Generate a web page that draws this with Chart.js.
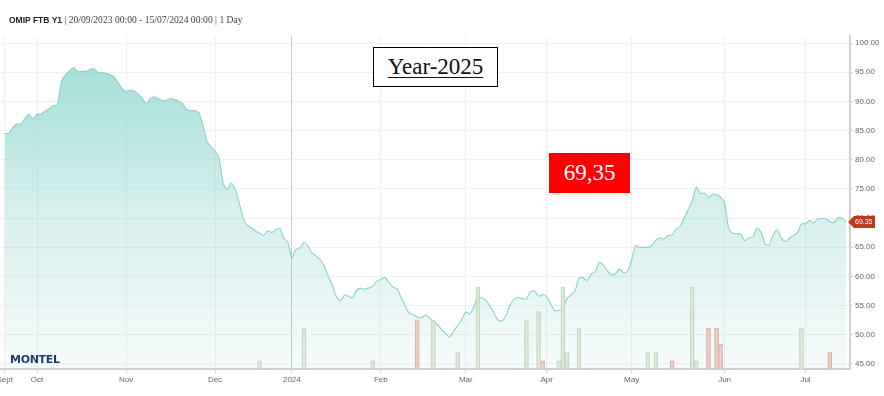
<!DOCTYPE html>
<html>
<head>
<meta charset="utf-8">
<script src="https://cdn.jsdelivr.net/npm/chart.js@4/dist/chart.umd.min.js"></script>
<style>
  html, body { margin: 0; padding: 0; background: #fff; }
  #wrap { position: relative; width: 884px; height: 396px; overflow: hidden; }
  #c { position: absolute; left: 0; top: 0; }
  #hdr { position: absolute; left: 9px; top: 14px; font-size: 9.6px; color: #444; font-family: "Liberation Serif", serif; white-space: nowrap; }
  #hdr b { font-family: "Liberation Sans", Arial, sans-serif; color: #222; font-size: 8.5px; }
  #yearBox { position: absolute; left: 373px; top: 47px; width: 123px; height: 38px; border: 1.5px solid #000; background: #fff;
    font-family: "Liberation Serif", serif; font-size: 23px; text-align: center; line-height: 38px; color: #111; }
  #yearBox span { text-decoration: underline; text-underline-offset: 3px; text-decoration-thickness: 1px; }
  #valBox { position: absolute; left: 549px; top: 153px; width: 81px; height: 40px; background: #ff0000; color: #fff;
    font-family: "Liberation Serif", serif; font-size: 23px; text-align: center; line-height: 40px; }
  #logo { position: absolute; left: 10px; top: 353px; font-family: "DejaVu Sans", sans-serif; font-weight: bold; font-size: 11px;
    letter-spacing: -0.3px; color: #1d3c70; }
</style>
</head>
<body>
<div id="wrap">
  <canvas id="c" width="884" height="396"></canvas>
  <div id="hdr"><b>OMIP FTB Y1</b> | 20/09/2023 00:00 - 15/07/2024 00:00 | 1 Day</div>
  <div id="yearBox"><span>Year-2025</span></div>
  <div id="valBox"></div>
  <div id="logo">MONTEL</div>
</div>
<script>
// ---- DATA ----
const startDate = '2023-09-20';
const endDate = '2024-07-15';
const holidays = ['2023-12-25', '2023-12-26', '2024-01-01', '2024-03-29', '2024-04-01'];

// daily settlement price, one per trading day
const prices = [
  84.5, 84.5, 85.5, 86.1, 86.1, 87.1, 87.8, 87.0, 87.8, 87.8,
  88.3, 88.7, 89.3, 89.4, 93.3, 94.5, 95.2, 95.8, 95.1, 95.1,
  95.1, 95.4, 95.6, 95.0, 94.9, 94.8, 94.6, 94.2, 93.2, 92.2,
  91.7, 91.9, 91.8, 91.2, 90.6, 89.5, 90.5, 90.8, 90.4, 90.1,
  90.2, 90.5, 90.3, 90.0, 89.6, 88.6, 88.4, 88.4, 88.1, 86.0,
  83.2, 82.2, 81.5, 80.3, 76.0, 74.9, 76.0, 75.0, 72.6, 70.0,
  68.7, 68.3, 67.8, 67.4, 67.0, 67.8, 67.5, 68.0, 68.3, 66.5,
  65.9, 63.2, 64.6, 64.9, 65.8, 65.2, 64.0, 63.5, 62.9, 61.8,
  60.0, 58.5, 56.5, 55.8, 56.8, 56.6, 56.3, 57.6, 58.0, 57.8,
  58.0, 58.3, 59.2, 59.5, 59.8, 59.0, 58.2, 57.9, 56.4, 55.0,
  53.7, 53.5, 53.0, 52.9, 53.4, 52.9, 52.3, 51.8, 50.9, 50.3,
  49.6, 50.6, 51.6, 52.6, 53.9, 53.6, 54.8, 56.4, 56.3, 55.9,
  54.9, 53.7, 52.5, 52.4, 53.4, 55.2, 56.1, 56.4, 56.2, 56.1,
  57.4, 57.5, 56.6, 56.9, 56.5, 55.3, 54.1, 54.2, 54.6, 56.2,
  56.8, 57.5, 59.7, 59.8, 59.3, 60.4, 60.8, 62.4, 62.0, 61.0,
  60.3, 60.4, 61.3, 60.6, 60.9, 62.8, 65.3, 65.0, 65.0, 65.0,
  65.3, 66.2, 66.6, 66.4, 67.0, 67.1, 68.1, 68.6, 70.0, 71.5,
  73.0, 75.3, 74.2, 74.3, 73.6, 74.1, 74.0, 73.6, 72.6, 68.2,
  67.4, 67.3, 67.2, 66.1, 66.6, 66.8, 68.3, 67.6, 65.6, 65.3,
  67.2, 68.0, 66.6, 66.0, 66.5, 67.0, 67.5, 69.0, 69.0, 69.6,
  69.2, 69.9, 69.9, 69.9, 69.4, 69.2, 70.0, 70.0, 69.35
];

// traded volume bars (green / red)
const greenVolDates = ['2023-12-18','2024-01-05','2024-01-30','2024-02-20','2024-02-28','2024-03-06','2024-03-22','2024-03-27',
  '2024-04-05','2024-04-08','2024-04-09','2024-04-12','2024-05-07','2024-05-09','2024-05-22','2024-05-23','2024-06-28'];
const greenVols = [1, 5, 1, 6, 2, 10, 6, 7, 1, 10, 2, 5, 2, 2, 10, 1, 5];
const redVolDates = ['2024-02-14','2024-03-28','2024-05-15','2024-05-28','2024-05-30','2024-05-31','2024-07-09'];
const redVols = [6, 1, 1, 5, 5, 3, 2];

const yTicks = [45, 50, 55, 60, 65, 70, 75, 80, 85, 90, 95, 100];
const monthNames = ['Jan','Feb','Mar','Apr','May','Jun','Jul','Aug','Sept','Oct','Nov','Dec'];

// ---- build trading-day calendar ----
function iso(d) { return d.toISOString().slice(0, 10); }
const dates = [];
for (let d = new Date(startDate + 'T00:00:00Z'); iso(d) <= endDate; d.setUTCDate(d.getUTCDate() + 1)) {
  const wd = d.getUTCDay();
  if (wd === 0 || wd === 6) continue;
  if (holidays.includes(iso(d))) continue;
  dates.push(iso(d));
}
const monthTicks = [];
dates.forEach((ds, i) => {
  if (i === 0 || ds.slice(5, 7) !== dates[i - 1].slice(5, 7)) {
    const m = parseInt(ds.slice(5, 7), 10) - 1;
    const label = (m === 0) ? ds.slice(0, 4) : monthNames[m];
    monthTicks.push({ value: i, label: label });
  }
});

const lastPrice = prices[prices.length - 1];
document.getElementById('valBox').textContent = lastPrice.toFixed(2).replace('.', ',');

const lineData = prices.map((v, i) => ({ x: i, y: v }));
const greenData = greenVolDates.map((d, i) => ({ x: dates.indexOf(d), y: greenVols[i] }));
const redData = redVolDates.map((d, i) => ({ x: dates.indexOf(d), y: redVols[i] }));

const tagPlugin = {
  id: 'lastTag',
  afterDraw(chart) {
    const y = chart.scales.y.getPixelForValue(lastPrice);
    const x0 = chart.chartArea.right - 2;
    const c = chart.ctx;
    c.save();
    c.fillStyle = '#c0391f';
    c.beginPath();
    c.moveTo(x0, y);
    c.lineTo(x0 + 6, y - 6);
    c.lineTo(x0 + 27, y - 6);
    c.lineTo(x0 + 27, y + 6);
    c.lineTo(x0 + 6, y + 6);
    c.closePath();
    c.fill();
    c.fillStyle = '#fff';
    c.font = '7px "Liberation Sans", Arial, sans-serif';
    c.textBaseline = 'middle';
    c.textAlign = 'left';
    c.fillText(lastPrice.toFixed(2), x0 + 7, y + 0.5);
    c.restore();
  }
};

new Chart(document.getElementById('c'), {
  type: 'line',
  data: {
    datasets: [
      {
        type: 'bar', data: greenData, xAxisID: 'x', yAxisID: 'yv', order: 0,
        backgroundColor: 'rgba(214,231,209,0.7)', borderColor: '#c6d7c2', borderWidth: 1,
        barThickness: 4, grouped: false
      },
      {
        type: 'bar', data: redData, xAxisID: 'x', yAxisID: 'yv', order: 0,
        backgroundColor: 'rgba(234,200,191,0.8)', borderColor: '#dcb3a8', borderWidth: 1,
        barThickness: 4, grouped: false
      },
      {
        type: 'line', data: lineData, xAxisID: 'x', yAxisID: 'y', order: 1,
        borderColor: '#86d3cb', borderWidth: 1.1, pointRadius: 0, tension: 0.2,
        fill: 'start',
        backgroundColor: (ctx) => {
          const ca = ctx.chart.chartArea;
          if (!ca) return 'rgba(140,212,204,0.4)';
          const g = ctx.chart.ctx.createLinearGradient(0, ca.top, 0, ca.bottom);
          g.addColorStop(0, 'rgba(130,210,202,0.8)');
          g.addColorStop(0.5, 'rgba(135,210,202,0.36)');
          g.addColorStop(1, 'rgba(135,210,202,0.07)');
          return g;
        }
      }
    ]
  },
  options: {
    responsive: false,
    animation: false,
    devicePixelRatio: 1,
    layout: { padding: { top: 36, left: 0, right: 0, bottom: 0 } },
    plugins: { legend: { display: false }, tooltip: { enabled: false }, title: { display: false } },
    scales: {
      x: {
        type: 'linear', min: -1.16, max: 209, offset: false,
        afterBuildTicks: (s) => { s.ticks = monthTicks.map(t => ({ value: t.value })); },
        afterFit: (s) => { s.height = 27; s.paddingLeft = 0; s.paddingRight = 0; },
        ticks: {
          autoSkip: false, maxRotation: 0, padding: 2,
          color: '#666', font: { size: 8, family: '"Liberation Sans", Arial, sans-serif' },
          callback: (v) => { const t = monthTicks.find(m => m.value === v); return t ? t.label : ''; }
        },
        grid: {
          offset: false,
          color: (ctx) => (ctx.tick && ctx.tick.label === '2024') ? '#c8c8c8' : '#efefef',
          tickColor: '#d0d0d0', tickLength: 4, lineWidth: 1
        },
        border: { color: '#cfcfcf', width: 2 }
      },
      y: {
        type: 'linear', position: 'right', min: 44.14, max: 101.2,
        afterBuildTicks: (s) => { s.ticks = yTicks.map(v => ({ value: v })); },
        afterFit: (s) => { s.width = 34; s.paddingTop = 0; s.paddingBottom = 0; },
        ticks: {
          padding: 2, color: '#666', font: { size: 8, family: '"Liberation Sans", Arial, sans-serif' },
          callback: (v) => Number(v).toFixed(2)
        },
        grid: { color: '#f0f0f0', tickColor: '#cfcfcf', tickLength: 3 },
        border: { color: '#d0d0d0', width: 2 }
      },
      yv: {
        type: 'linear', display: false, min: 0, max: 40.6
      }
    }
  },
  plugins: [tagPlugin]
});
</script>
</body>
</html>
